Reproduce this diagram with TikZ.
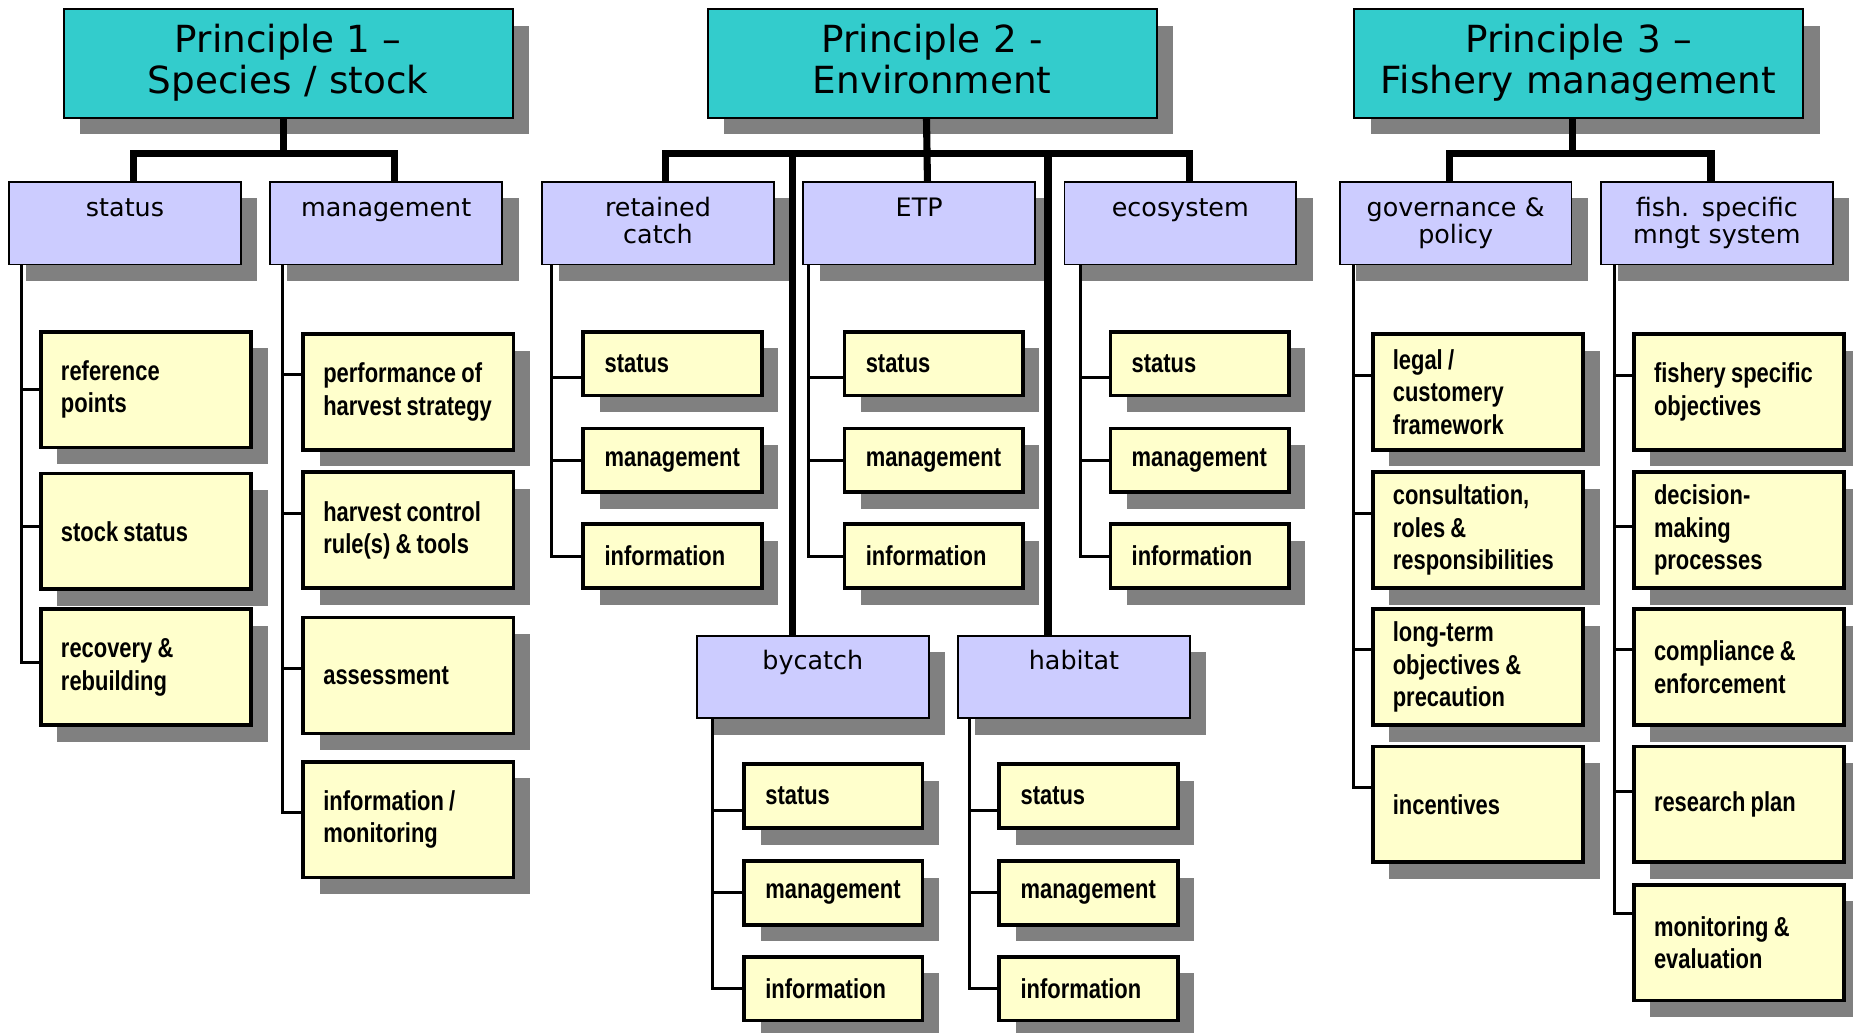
\documentclass[tikz,border=0pt]{standalone}
\usepackage{fontspec}
\setmainfont{DejaVu Sans}
\newfontfamily\leaffont{Liberation Sans}[FakeStretch=0.8]
\usetikzlibrary{shadows}

\definecolor{headteal}{HTML}{33CCCC}
\definecolor{topicblue}{HTML}{CCCCFF}
\definecolor{itemyellow}{HTML}{FFFFCC}
\definecolor{shadowgray}{HTML}{808080}

\tikzset{
  boxshadow/.style={drop shadow={shadow xshift=7pt, shadow yshift=-7pt, opacity=1, fill=shadowgray}},
  principle/.style={draw, line width=0.8pt, fill=headteal, boxshadow, anchor=north west,
    minimum width=190pt, minimum height=46pt, text width=186pt, align=center,
    inner xsep=2pt, inner ysep=0pt, text height=18.5pt, text depth=27.5pt,
    font=\fontsize{15.8}{17.3}\selectfont},
  topic/.style={draw, line width=0.8pt, fill=topicblue, boxshadow, anchor=north west,
    minimum width=98pt, minimum height=35pt, text width=94pt, align=center,
    inner xsep=2pt, inner ysep=0pt, text height=14.5pt, text depth=20.5pt,
    font=\fontsize{10.75}{11.75}\selectfont},
  item/.style={draw, line width=1.6pt, fill=itemyellow, boxshadow, anchor=north west,
    minimum width=89pt, minimum height=49pt, text width=72pt, inner xsep=8.5pt,
    align=left, font=\leaffont\bfseries\fontsize{11.6}{13.7}\selectfont,
    execute at begin node={\spaceskip=0.19em\relax}},
  smallitem/.style={item, minimum width=75.5pt, minimum height=27pt,
    text width=57.5pt, inner xsep=9pt},
  trunk/.style={line width=3pt},
  branch/.style={line width=1.3pt}
}

\begin{document}
\begin{tikzpicture}[x=0.5pt, y=-0.5pt]
  \useasboundingbox (0,0) rectangle (1568,874);

  % principles
  \node [principle] (p1) at (53,7) {Principle 1 –\\Species / stock};
  \node [principle] (p2) at (598,7) {Principle 2 -\\Environment};
  \node [principle] (p3) at (1145,7) {Principle 3 –\\Fishery management};

  % components
  \node [topic] (p1s) at (7,153) {status};
  \node [topic] (p1m) at (228,153) {management};
  \node [topic] (p2r) at (458,153) {retained\\catch};
  \node [topic] (p2t) at (679,153) {ETP};
  \node [topic] (p2e) at (900,153) {ecosystem};
  \node [topic] (p2b) at (589,537) {bycatch};
  \node [topic] (p2h) at (810,537) {habitat};
  \node [topic] (p3g) at (1133,153) {governance \&\\policy};
  \node [topic] (p3f) at (1354,153) {fish. specific\\mngt system};

  % performance indicators, principle 1
  \node [item] (p1s1) at (33,279) {reference\\points};
  \node [item] (p1s2) at (33,399) {stock status};
  \node [item] (p1s3) at (33,514) {recovery \&\\rebuilding};
  \node [item] (p1m1) at (255,281) {performance of\\harvest strategy};
  \node [item] (p1m2) at (255,398) {harvest control\\rule(s) \& tools};
  \node [item] (p1m3) at (255,521) {assessment};
  \node [item] (p1m4) at (255,643) {information /\\monitoring};

  % performance indicators, principle 2
  \foreach \g/\x/\y in {p2r/492/279, p2t/713/279, p2e/938/279, p2b/628/645, p2h/844/645} {
    \node [smallitem] (\g1) at (\x,\y) {status};
    \node [smallitem] (\g2) at (\x,\y+82) {management};
    \node [smallitem] (\g3) at (\x,\y+163) {information};
  }

  % performance indicators, principle 3
  \node [item] (p3g1) at (1160,281) {legal /\\customery\\framework};
  \node [item] (p3g2) at (1160,398) {consultation,\\roles \&\\responsibilities};
  \node [item] (p3g3) at (1160,514) {long-term\\objectives \&\\precaution};
  \node [item] (p3g4) at (1160,630) {incentives};
  \node [item] (p3f1) at (1381,281) {fishery specific\\objectives};
  \node [item] (p3f2) at (1381,398) {decision-\\making\\processes};
  \node [item] (p3f3) at (1381,514) {compliance \&\\enforcement};
  \node [item] (p3f4) at (1381,630) {research plan};
  \node [item] (p3f5) at (1381,747) {monitoring \&\\evaluation};

  % trunks
  \coordinate (p1bar) at (240,130);
  \coordinate (p2bar) at (784,130);
  \coordinate (p3bar) at (1331,130);
  \draw [trunk] (p1.south -| p1bar) -- (p1bar);
  \draw [trunk] ([xshift=3.5pt]p1s.north) |- (p1bar) -| ([xshift=3.5pt]p1m.north);
  \draw [trunk] (p2.south -| p2bar) -- ([xshift=3.5pt]p2t.north);
  \draw [trunk] ([xshift=3pt]p2r.north) |- (p2bar) -| ([xshift=4pt]p2e.north);
  \draw [trunk] ([xshift=-8.5pt]p2b.north) |- (p2bar);
  \draw [trunk] ([xshift=-11pt]p2h.north) |- (p2bar);
  \draw [trunk] (p3.south -| p3bar) -- (p3bar);
  \draw [trunk] ([xshift=-2.5pt]p3g.north) |- (p3bar) -| ([xshift=-2.5pt]p3f.north);

  % branches
  \foreach \n/\d in {p1s1/0, p1s2/2, p1s3/2}
    \draw [branch] ([xshift=5.5pt]p1s.south west) |- ([yshift=\d pt]\n.west);
  \foreach \n/\d in {p1m1/7.5, p1m2/7, p1m3/3, p1m4/3}
    \draw [branch] ([xshift=5.5pt]p1m.south west) |- ([yshift=\d pt]\n.west);
  \foreach \g/\dx in {p2r/4.5, p2t/2.5, p2e/7, p2b/7, p2h/5} {
    \draw [branch] ([xshift=\dx pt]\g.south west) |- ([yshift=-6pt]\g1.west);
    \draw [branch] ([xshift=\dx pt]\g.south west) |- (\g2.west);
    \draw [branch] ([xshift=\dx pt]\g.south west) |- (\g3.west);
  }
  \foreach \n/\d in {p3g1/7, p3g2/7, p3g3/7.5, p3g4/7}
    \draw [branch] ([xshift=6pt]p3g.south west) |- ([yshift=\d pt]\n.west);
  \foreach \n/\d in {p3f1/7, p3f2/1.5, p3f3/7.5, p3f4/5.5, p3f5/12.5}
    \draw [branch] ([xshift=6pt]p3f.south west) |- ([yshift=\d pt]\n.west);
\end{tikzpicture}
\end{document}
